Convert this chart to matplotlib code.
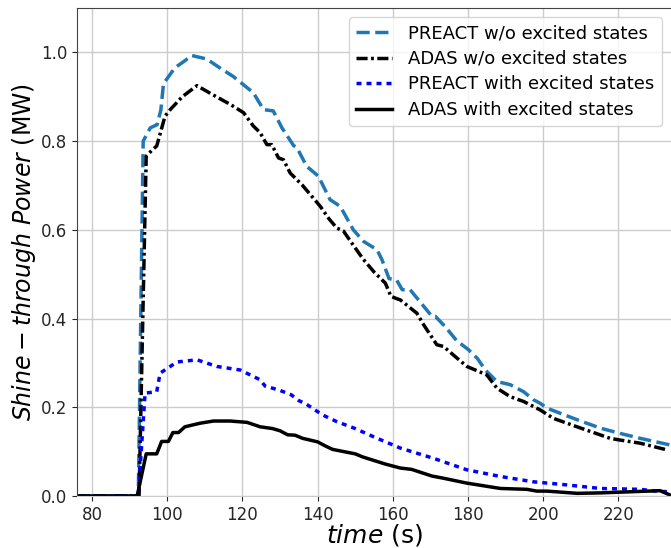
import matplotlib.pyplot as plt

t_preact_wo = [75, 92.3, 93.6, 95.5, 97.3, 98.3, 99.0, 99.9, 102, 104.5, 106.5, 110.5, 114, 117.5,
               122.9, 125.6, 128.2, 130.5, 133.6, 134.5, 137.1, 140.2, 143.3, 146.0, 149.5, 152.2,
               155.8, 157.1, 159, 161, 162.5, 164.6, 167.5, 170.4, 171.3, 173.9, 177, 180.1, 182.5,
               184.6, 187.7, 191.2, 194.8, 197.4, 199.2, 201.0, 205, 209.0, 215.2, 220.5, 225.8, 233.8]
p_preact_wo = [0, 0, 0.80, 0.83, 0.837, 0.87, 0.93, 0.94, 0.965, 0.98, 0.993, 0.985, 0.965, 0.946,
               0.909, 0.871, 0.868, 0.83, 0.790, 0.785, 0.743, 0.721, 0.668, 0.653, 0.600, 0.574,
               0.555, 0.533, 0.49, 0.487, 0.465, 0.465, 0.435, 0.405, 0.405, 0.382, 0.35, 0.330, 0.31,
               0.284, 0.258, 0.251, 0.235, 0.217, 0.209, 0.198, 0.185, 0.172, 0.153, 0.141, 0.130, 0.115]

t_adas_wo = [75, 92.5, 94.4, 96, 97.2, 99.4, 100.8, 104, 107.9, 112, 116.7, 120.3, 122.9, 124.7,
             126.5, 127.8, 129.6, 130.9, 132.7, 136, 140.7, 143, 145.1, 146.9, 149.5, 152.2, 155,
             158, 159.5, 161, 162.0, 166.4, 168.2, 171.7, 173.5, 176.5, 179.7, 185.0, 187.7, 191.2,
             194.8, 199.2, 202.7, 209.0, 217.8, 220.5, 225.8, 232.9]
p_adas_wo = [0, 0, 0.766, 0.78, 0.789, 0.856, 0.871, 0.90, 0.925, 0.905, 0.883, 0.864, 0.834, 0.819,
             0.792, 0.792, 0.762, 0.758, 0.728, 0.70, 0.653, 0.625, 0.604, 0.597, 0.565, 0.533, 0.505,
             0.48, 0.45, 0.445, 0.442, 0.412, 0.386, 0.341, 0.337, 0.315, 0.292, 0.273, 0.243, 0.224,
             0.213, 0.194, 0.175, 0.156, 0.130, 0.126, 0.119, 0.104]

t_preact_with = [75, 92.3, 94.1, 97.2, 98.1, 100.8, 102.5, 107.9, 113.2, 119.4, 124.7, 126, 130,
                 133, 135, 137, 140, 142, 145, 150, 155, 162.0, 170.8, 179.7, 188.6, 197.4, 206.3,
                 215.2, 225.8, 231.1, 234]
p_preact_with = [0, 0, 0.232, 0.235, 0.277, 0.292, 0.302, 0.307, 0.292, 0.284, 0.262, 0.248, 0.238,
                 0.228, 0.215, 0.207, 0.19, 0.18, 0.168, 0.152, 0.133, 0.108, 0.085, 0.059, 0.044,
                 0.032, 0.025, 0.017, 0.015, 0.010, 0.010]

t_adas_with = [75, 92.0, 94.4, 97.2, 98.5, 100.3, 101.5, 103.0, 104.7, 108.7, 112.3, 116.7, 121.2,
               124.7, 128, 130, 132, 134, 136, 140, 142, 144, 147, 150, 152, 155, 158, 162.0, 165,
               170.4, 173.5, 179.7, 188.6, 195.7, 198.3, 201.0, 209.0, 215.2, 231.1, 233.8]
p_adas_with = [0, 0, 0.095, 0.095, 0.123, 0.123, 0.143, 0.143, 0.156, 0.164, 0.169, 0.169, 0.166,
               0.156, 0.152, 0.147, 0.138, 0.137, 0.13, 0.122, 0.113, 0.105, 0.1, 0.095, 0.088, 0.08,
               0.072, 0.063, 0.06, 0.045, 0.040, 0.029, 0.017, 0.015, 0.011, 0.011, 0.006, 0.007,
               0.012, 0.002]

plt.rcParams["lines.scale_dashes"] = False

fig = plt.figure(figsize=(6.71, 5.48), dpi=100)
ax = fig.add_axes([0.1148, 0.0949, 0.8852, 0.8905])

ax.plot(t_preact_wo, p_preact_wo, color="#1f77b4", lw=2.5, dashes=(9.5, 4), label="PREACT w/o excited states")
ax.plot(t_adas_wo, p_adas_wo, color="k", lw=2.5, dashes=(8, 2.5, 2, 2.5), label="ADAS w/o excited states")
ax.plot(t_preact_with, p_preact_with, color="blue", lw=2.5, dashes=(3.6, 3.6), label="PREACT with excited states")
ax.plot(t_adas_with, p_adas_with, color="k", lw=2.5, label="ADAS with excited states")

ax.set_xlim(76, 234)
ax.set_ylim(0, 1.1)
ax.set_xticks(range(80, 221, 20))
ax.set_yticks([0.0, 0.2, 0.4, 0.6, 0.8, 1.0])
ax.tick_params(labelsize=12, colors="#262626")
ax.grid(True, color="#cccccc", lw=1)
ax.set_axisbelow(True)
for s in ["left", "top"]:
    ax.spines[s].set_color("#444444")
ax.spines["bottom"].set_color("#cccccc")
ax.spines["right"].set_visible(False)

ax.set_xlabel(r"$time$ (s)", fontsize=18, labelpad=-1)
ax.set_ylabel(r"$Shine-through\ Power$ (MW)", fontsize=17, labelpad=2)
ax.legend(loc="upper right", fontsize=13, labelspacing=0.42, handletextpad=0.9)

fig.savefig("out.png", dpi=100)
